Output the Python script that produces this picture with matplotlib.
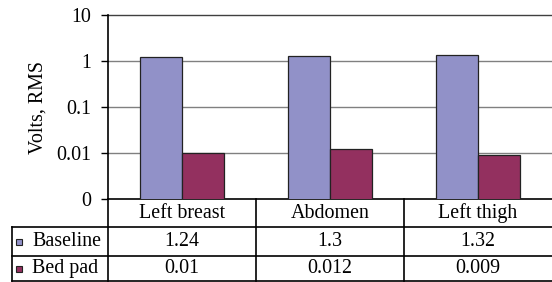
import matplotlib
matplotlib.use("Agg")
import matplotlib.pyplot as plt
import numpy as np
from matplotlib.transforms import blended_transform_factory
from matplotlib.patches import Rectangle
from matplotlib.lines import Line2D

categories = ["Left breast", "Abdomen", "Left thigh"]
series_names = ["Baseline", "Bed pad"]
baseline = [1.24, 1.3, 1.32]
bed_pad = [0.01, 0.012, 0.009]
baseline_labels = ["1.24", "1.3", "1.32"]
bed_pad_labels = ["0.01", "0.012", "0.009"]
ytick_values = [0.001, 0.01, 0.1, 1, 10]
ytick_labels = ["0", "0.01", "0.1", "1", "10"]

colors = ["#9191C8", "#93305F"]

plt.rcParams['font.family'] = ['Liberation Serif', 'DejaVu Serif']
FS = 14.4

W, H = 552, 282
fig = plt.figure(figsize=(W / 100, H / 100), dpi=100)

x0, x1, y_top, y_bot = 108, 552, 15, 199
ax = fig.add_axes([x0 / W, (H - y_bot) / H, (x1 - x0) / W, (y_bot - y_top) / H])
ax.set_yscale('log', nonpositive='clip')
ax.set_ylim(0.001, 10)
ax.set_xlim(-0.5, 2.5)

x = np.arange(len(categories))
bw = 0.284
for vals, off, c in [(baseline, -bw / 2, colors[0]), (bed_pad, bw / 2, colors[1])]:
    ax.bar(x + off, vals, width=bw, color=c, edgecolor='#222222',
           linewidth=0.9, zorder=3)
ax.set_ylim(0.001, 10)

# gridlines
for v in ytick_values[1:]:
    ax.axhline(v, color='#404040' if v == 10 else '#808080', lw=1.0, zorder=1,
               clip_on=False)

ax.set_yticks(ytick_values)
ax.set_yticklabels(ytick_labels, fontsize=FS)
ax.yaxis.set_minor_locator(matplotlib.ticker.NullLocator())
ax.tick_params(axis='y', direction='out', length=5, width=1, pad=7, color='black')
ax.set_xticks([])
for s in ['top', 'right']:
    ax.spines[s].set_visible(False)
ax.spines['left'].set_linewidth(1.2)
ax.spines['bottom'].set_linewidth(1.2)
ax.set_ylabel("Volts, RMS", fontsize=FS, labelpad=6)

# data table below
tr = blended_transform_factory(ax.transData, fig.transFigure)
def fy(py):
    return (H - py) / H

row_lines = [227, 256, 281]
row_centers = [213.5, 241.5, 268.5]
left_px = 12
trf = fig.transFigure

for py in row_lines:
    fig.add_artist(Line2D([left_px / W, 1.0], [fy(py), fy(py)], color='black', lw=1.2,
                          transform=trf))
fig.add_artist(Line2D([left_px / W, left_px / W], [fy(227), fy(281)], color='black', lw=1.2,
                      transform=trf))
for b in [-0.5, 0.5, 1.5]:
    fig.add_artist(Line2D([b, b], [fy(y_bot), fy(281)], color='black', lw=1.2, transform=tr))

for i, cat in enumerate(categories):
    fig.text(i, fy(row_centers[0]), cat, transform=tr, ha='center', va='center', fontsize=FS)
    fig.text(i, fy(row_centers[1]), baseline_labels[i], transform=tr, ha='center',
             va='center', fontsize=FS)
    fig.text(i, fy(row_centers[2]), bed_pad_labels[i], transform=tr, ha='center',
             va='center', fontsize=FS)

for j, name in enumerate(series_names):
    cy = row_centers[j + 1]
    fig.add_artist(Rectangle((16 / W, fy(cy + 3)), 6 / W, 6 / H, facecolor=colors[j],
                             edgecolor='#222222', lw=0.8, transform=trf))
    fig.text(32 / W, fy(cy), name, ha='left', va='center', fontsize=FS)

fig.savefig("out.png", dpi=100)
